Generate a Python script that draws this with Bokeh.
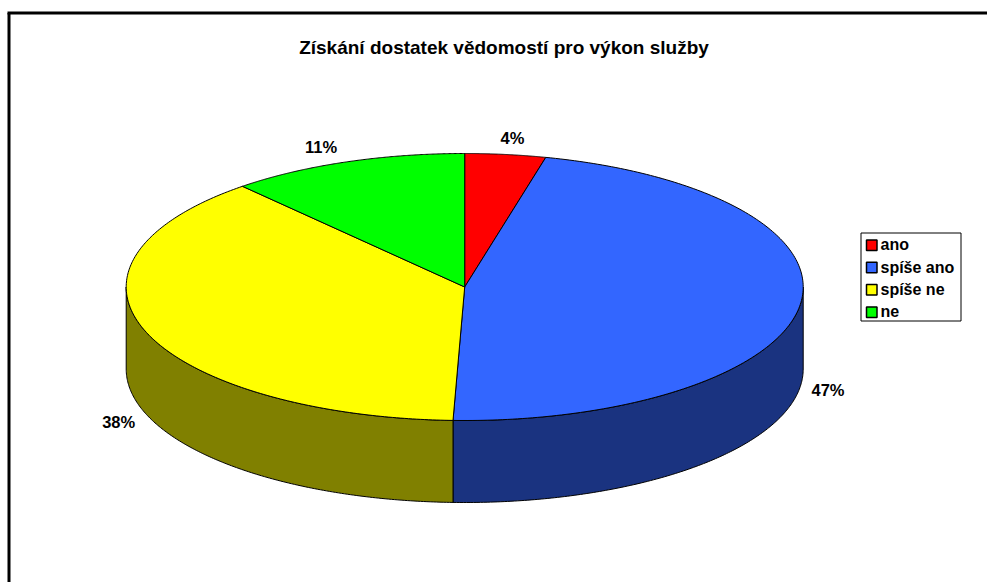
import numpy as np
from bokeh.plotting import figure
from bokeh.models import Range1d, Label
from bokeh.core.properties import value
from bokeh.embed import file_html
from bokeh.resources import INLINE

title = "Získání dostatek vědomostí pro výkon služby"
categories = ["ano", "spíše ano", "spíše ne", "ne"]
shares = [3.85, 46.7, 38.05, 11.4]
top_colors = ["#FF0000", "#3366FF", "#FFFF00", "#00FF00"]
side_colors = ["#800000", "#1A3380", "#808000", "#008000"]

# layout of the tilted pie, in page pixels
CX, CY, RX, RY, DEPTH = 464.2, 286.5, 338.5, 133.5, 82
LABEL_DX = [7, 28, -27, -25]
LABEL_DY = [-16, 3, 8, -15]
FONT = "Liberation Sans"
# legend layout
BOX_L, BOX_R, BOX_T, BOX_B = 860.5, 960.5, 232.5, 320.5
SW_L, SW_SIZE, SW_T, ROW = 866, 10.5, 239.5, 22.3
TXT_X = 880

W, H = 987, 582
p = figure(width=W, height=H, output_backend="svg", toolbar_location=None,
           x_range=Range1d(0, W), y_range=Range1d(H, 0),
           min_border=0, outline_line_color=None, background_fill_color="white")
p.axis.visible = False
p.grid.visible = False


def ell(t):
    return CX + RX * np.sin(t), CY - RY * np.cos(t)


edges = np.radians(np.concatenate([[0], np.cumsum(shares)]) * 3.6)
# side walls (only front half, pi/2..3pi/2, is visible)
for i in range(len(shares)):
    a, b = max(edges[i], np.pi / 2), min(edges[i + 1], 3 * np.pi / 2)
    if b <= a:
        continue
    t = np.linspace(a, b, 160)
    x, y = ell(t)
    p.patch(np.r_[x, x[::-1]], np.r_[y, y[::-1] + DEPTH],
            fill_color=side_colors[i], line_color="black", line_width=1)

for i, c in enumerate(categories):
    t = np.linspace(edges[i], edges[i + 1], 200)
    x, y = ell(t)
    p.patch(np.r_[CX, x], np.r_[CY, y], fill_color=top_colors[i],
            line_color="black", line_width=1)

# outside data labels
mids = (edges[:-1] + edges[1:]) / 2
mx, my = ell(mids)
lx = mx + np.array(LABEL_DX)
ly = my + np.where(np.cos(mids) < 0, DEPTH, 0) + np.array(LABEL_DY)
p.text(lx, ly, text=[f"{round(v)}%" for v in shares], text_align="center",
       text_baseline="middle", text_font=value(FONT), text_font_style="bold",
       text_font_size="16.5px", text_color="black")

p.add_layout(Label(x=503.5, y=46.5, text=title, text_align="center", text_baseline="middle",
                   text_font=FONT, text_font_style="bold", text_font_size="19px",
                   text_color="black"))

# chart frame
p.segment([8.5, 7], [12.5, 12.5], [8.5, W], [H, 12.5], line_color="black", line_width=3)

# legend
p.quad(left=[BOX_L], right=[BOX_R], top=[BOX_T], bottom=[BOX_B], fill_color="white",
       line_color="black", line_width=1)
rows = np.arange(len(categories)) * ROW + SW_T
p.quad(left=SW_L, right=SW_L + SW_SIZE, top=rows, bottom=rows + SW_SIZE, fill_color=top_colors,
       line_color="black", line_width=1.5)
p.text(TXT_X, rows + SW_SIZE / 2 - 0.5, text=categories, text_align="left", text_baseline="middle",
       text_font=value(FONT), text_font_style="bold", text_font_size="16px", text_color="black")

open("out.html", "w").write(file_html(p, INLINE))
